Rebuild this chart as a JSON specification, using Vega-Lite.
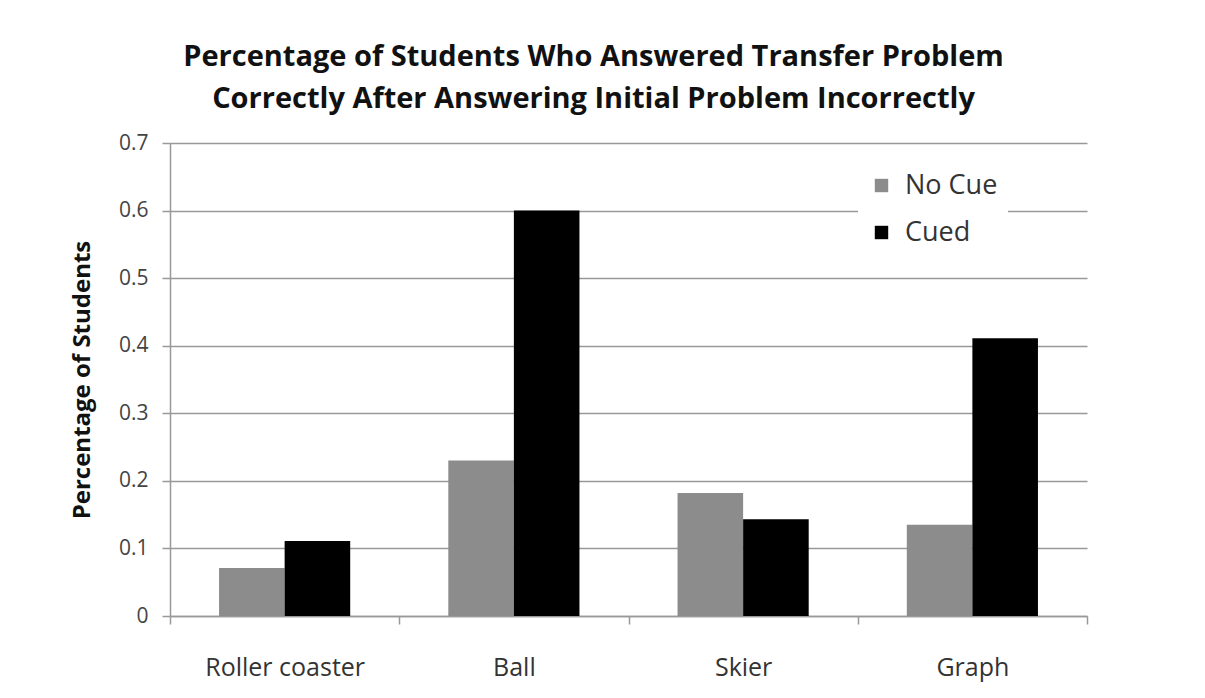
{
  "$schema": "https://vega.github.io/schema/vega-lite/v6.json",
  "width": 917,
  "height": 473,
  "autosize": "none",
  "padding": {"left": 170, "top": 143, "right": 118, "bottom": 82},
  "background": "white",
  "title": {
    "text": ["Percentage of Students Who Answered Transfer Problem", "Correctly After Answering Initial Problem Incorrectly"],
    "font": "Open Sans",
    "fontSize": 29,
    "fontWeight": "bold",
    "color": "#111111",
    "lineHeight": 42,
    "anchor": "middle",
    "frame": "group",
    "dx": -35,
    "offset": 18
  },
  "data": {
    "values": [
      {"problem": "Roller coaster", "condition": "No Cue", "value": 0.071},
      {"problem": "Roller coaster", "condition": "Cued", "value": 0.111},
      {"problem": "Ball", "condition": "No Cue", "value": 0.230},
      {"problem": "Ball", "condition": "Cued", "value": 0.600},
      {"problem": "Skier", "condition": "No Cue", "value": 0.182},
      {"problem": "Skier", "condition": "Cued", "value": 0.143},
      {"problem": "Graph", "condition": "No Cue", "value": 0.135},
      {"problem": "Graph", "condition": "Cued", "value": 0.411}
    ]
  },
  "mark": {"type": "bar"},
  "encoding": {
    "x": {
      "field": "problem",
      "type": "nominal",
      "sort": ["Roller coaster", "Ball", "Skier", "Graph"],
      "scale": {"paddingInner": 0, "paddingOuter": 0},
      "axis": {
        "title": null,
        "labelAngle": 0,
        "labelFont": "Open Sans",
        "labelFontSize": 25,
        "labelColor": "#333333",
        "labelPadding": 31,
        "tickBand": "extent",
        "tickSize": 8,
        "tickColor": "#999999",
        "tickWidth": 1.5,
        "domainColor": "#999999",
        "domainWidth": 1.5,
        "grid": false
      }
    },
    "xOffset": {
      "field": "condition",
      "type": "nominal",
      "sort": ["No Cue", "Cued"],
      "scale": {"paddingInner": 0, "paddingOuter": 0.748}
    },
    "y": {
      "field": "value",
      "type": "quantitative",
      "scale": {"domain": [0, 0.7], "nice": false},
      "axis": {
        "title": "Percentage of Students",
        "titleFont": "Open Sans",
        "titleFontSize": 24,
        "titleFontWeight": "bold",
        "titleColor": "#111111",
        "titlePadding": 24,
        "values": [0, 0.1, 0.2, 0.3, 0.4, 0.5, 0.6, 0.7],
        "format": "~g",
        "labelFont": "Open Sans",
        "labelFontSize": 21,
        "labelColor": "#444444",
        "labelPadding": 14,
        "tickSize": 8,
        "tickColor": "#999999",
        "tickWidth": 1.5,
        "domainColor": "#999999",
        "domainWidth": 1.5,
        "grid": true,
        "gridColor": "#999999",
        "gridWidth": 1.5
      }
    },
    "color": {
      "field": "condition",
      "type": "nominal",
      "sort": ["No Cue", "Cued"],
      "scale": {"domain": ["No Cue", "Cued"], "range": ["#8c8c8c", "#000000"]},
      "legend": {
        "title": null,
        "orient": "none",
        "legendX": 688,
        "legendY": 19,
        "fillColor": "white",
        "padding": 10,
        "symbolType": "square",
        "symbolSize": 180,
        "symbolStrokeWidth": 0,
        "labelFont": "Open Sans",
        "labelFontSize": 27,
        "labelColor": "#333333",
        "labelOffset": 10,
        "labelLimit": 200,
        "rowPadding": 19
      }
    }
  },
  "config": {
    "view": {"stroke": null}
  }
}
